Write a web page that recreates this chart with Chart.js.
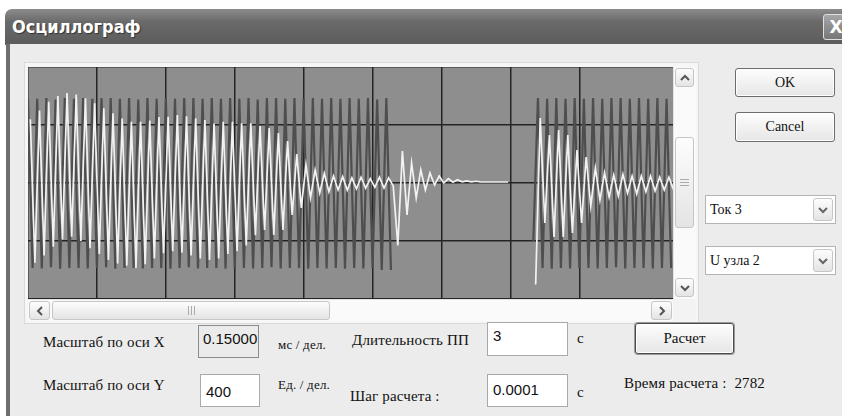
<!DOCTYPE html>
<html lang="ru">
<head>
<meta charset="UTF-8">
<title>Осциллограф</title>
<script src="https://cdn.jsdelivr.net/npm/chart.js"></script>
<style>
    body { margin: 0; width: 842px; height: 416px; overflow: hidden; background: #ffffff; position: relative; }
    .abs { position: absolute; box-sizing: border-box; }
    .lbl { position: absolute; font: 15px "Liberation Serif", serif; letter-spacing: 0.15px; color: #111; line-height: 1; transform: translateY(-50%); white-space: nowrap; }
    .small { font-size: 13px; letter-spacing: 0.2px; }
    .edit { position: absolute; box-sizing: border-box; background: #fff; border: 1px solid #a9a9a9; font: 15px "Liberation Sans", sans-serif; color: #111; padding: 4px 0 0 5px; overflow: hidden; white-space: nowrap; }
    .btn { position: absolute; box-sizing: border-box; border: 1px solid #6c6c6c; border-radius: 3px; background: linear-gradient(#fdfdfd, #e6e6e6); box-shadow: inset 0 0 0 1px #ffffff; font: 14px "Liberation Serif", serif; color: #111; display: flex; align-items: center; justify-content: center; }
    .sbtn { position: absolute; box-sizing: border-box; border: 1px solid #c6c6c6; border-radius: 3px; background: linear-gradient(#fdfdfd, #e4e4e4); display: flex; align-items: center; justify-content: center; }
    .combo { position: absolute; box-sizing: border-box; background: #fff; border: 1px solid #b4b4b4; font: 14px "Liberation Serif", serif; color: #111; padding-left: 4px; display: flex; align-items: center; }
</style>
</head>
<body>
<!-- window frame -->
<div class="abs" style="left:5px; top:9px; width:850px; height:36px; border-radius:7px 7px 0 0; background:linear-gradient(#8c8c8c, #6a6a6a 35%, #5c5c5c);"></div>
<div class="abs" style="left:12px; top:16px; font:bold 18px 'DejaVu Sans Condensed', sans-serif; color:#fff; text-shadow:1px 1px 1px #333;">Осциллограф</div>
<div class="abs" style="left:823px; top:14px; width:26px; height:26px; border:1px solid #e0e0e0; border-radius:3px; background:linear-gradient(#a6a6a6, #777); color:#fff; font:bold 17px 'DejaVu Sans', sans-serif; display:flex; align-items:center; justify-content:center;">X</div>
<div class="abs" style="left:6px; top:44px; width:840px; height:380px; background:#ececec; border-left:4px solid #6e6e6e;"></div>

<!-- plot frame -->
<div class="abs" style="left:24px; top:62px; width:675px; height:262px; background:#f6f6f6; border:1px solid #dadada;"></div>
<div class="abs" style="left:28px; top:67px; width:645px; height:232px; background:#8e8e8e;">
    <canvas id="scope"></canvas>
</div>

<!-- vertical scrollbar -->
<div class="abs" style="left:673px; top:67px; width:23px; height:232px; background:#fafafa; border-left:1px solid #e4e4e4;"></div>
<div class="sbtn" style="left:675px; top:68px; width:19px; height:19px;"><svg width="10" height="8"><polyline points="1,6 5,2 9,6" fill="none" stroke="#555" stroke-width="2"/></svg></div>
<div class="sbtn" style="left:675px; top:137px; width:19px; height:91px;"><svg width="9" height="7"><path d="M0 0.5H9M0 3.5H9M0 6.5H9" stroke="#aaa" stroke-width="1"/></svg></div>
<div class="sbtn" style="left:675px; top:278px; width:19px; height:19px;"><svg width="10" height="8"><polyline points="1,2 5,6 9,2" fill="none" stroke="#555" stroke-width="2"/></svg></div>

<!-- horizontal scrollbar -->
<div class="abs" style="left:28px; top:299px; width:645px; height:22px; background:#fafafa; border-top:1px solid #e4e4e4;"></div>
<div class="abs" style="left:673px; top:299px; width:23px; height:22px; background:#f3f3f3;"></div>
<div class="sbtn" style="left:29px; top:301px; width:21px; height:19px;"><svg width="8" height="10"><polyline points="6,1 2,5 6,9" fill="none" stroke="#555" stroke-width="2"/></svg></div>
<div class="sbtn" style="left:52px; top:301px; width:278px; height:19px;"><svg width="7" height="9"><path d="M0.5 0V9M3.5 0V9M6.5 0V9" stroke="#aaa" stroke-width="1"/></svg></div>
<div class="sbtn" style="left:651px; top:301px; width:21px; height:19px;"><svg width="8" height="10"><polyline points="2,1 6,5 2,9" fill="none" stroke="#555" stroke-width="2"/></svg></div>

<!-- right side controls -->
<div class="btn" style="left:735px; top:68px; width:100px; height:29px;">OK</div>
<div class="btn" style="left:735px; top:112px; width:100px; height:30px;">Cancel</div>
<div class="combo" style="left:705px; top:195px; width:131px; height:29px;">Ток 3</div>
<div class="sbtn" style="left:813px; top:198px; width:20px; height:23px;"><svg width="10" height="8"><polyline points="1,2 5,6 9,2" fill="none" stroke="#666" stroke-width="2"/></svg></div>
<div class="combo" style="left:705px; top:246px; width:131px; height:29px;">U узла 2</div>
<div class="sbtn" style="left:813px; top:249px; width:20px; height:23px;"><svg width="10" height="8"><polyline points="1,2 5,6 9,2" fill="none" stroke="#666" stroke-width="2"/></svg></div>

<!-- bottom controls -->
<div class="lbl" style="left:43px; top:342px;">Масштаб по оси X</div>
<div class="edit" style="left:198px; top:325px; width:61px; height:33px; background:#ebebeb; border-color:#8c8c8c; padding-left:4px;">0.15000</div>
<div class="lbl small" style="left:278px; top:344px;">мс / дел.</div>
<div class="lbl" style="left:352px; top:340px;">Длительность ПП</div>
<div class="edit" style="left:487px; top:322px; width:81px; height:34px;">3</div>
<div class="lbl" style="left:577px; top:338px;">с</div>
<div class="btn" style="left:635px; top:323px; width:99px; height:31px; border-color:#4a4a4a; box-shadow:0 0 0 1px #9a9a9a, inset 0 0 0 1px #fff; font-size:15px;">Расчет</div>

<div class="lbl" style="left:43px; top:385px;">Масштаб по оси Y</div>
<div class="edit" style="left:200px; top:374px; width:60px; height:33px; padding-top:8px;">400</div>
<div class="lbl small" style="left:278px; top:384px;">Ед. / дел.</div>
<div class="lbl" style="left:350px; top:396px;">Шаг расчета :</div>
<div class="edit" style="left:487px; top:374px; width:81px; height:33px; padding-top:6px;">0.0001</div>
<div class="lbl" style="left:577px; top:392px;">с</div>
<div class="lbl" style="left:624px; top:383px;">Время расчета :&nbsp; 2782</div>

<script>
// oscillograph settings (see fields under the plot)
const timeStepMs = 0.01;     // time between samples of the traces
const xScaleMs = 0.15;       // мс / дел.
const yScaleUnits = 400;     // Ед. / дел.
const xDivsShown = 9.36;     // divisions visible in the window
const yDivsHalf = 2;

// dark trace (U узла 2), null = not computed in that window
const darkTrace = [
    586, -586, 580, -590, 586, -580, 575, -592, 586, -586,
    580, -586, 586, -590, 580, -586, 586, -580, 586, -592,
    580, -586, 586, -586, 575, -590, 586, -586, 580, -586,
    586, -592, 580, -586, 586, -580, 586, -590, 580, -586,
    586, -586, 580, -592, 586, -586, 580, -586, 586, -590,
    575, -586, 586, -580, 586, -590, 580, -586, 586, -586,
    580, -592, 586, -586, 580, -590, 586, -586, 580, -592,
    586, -586, 580, -590, 586, -586, 575, -600, 586, -600,
    null, null, null, null, null, null, null, null, null, null,
    null, null, null, null, null, null, null, null, null, null,
    null, null, null, null, null, null, null, null, null, null,
    -400, 586, -586, 580, -592, 586, -586, 580, -590, 586,
    -586, 580, -586, 586, -590, 580, -586, 586, -580, 586,
    -590, 580, -586, 586, -586, 580, -590, 586, -586, 580,
    -586
];

// white trace (Ток 3)
const whiteTrace = [
    440, -550, 500, -500, 560, -440, 600, -390, 620, -370,
    610, -400, 585, -450, 550, -490, 515, -530, 480, -555,
    445, -570, 423, -586, 423, -560, 430, -520, 455, -485,
    457, -470, 469, -480, 460, -500, 446, -520, 434, -530,
    411, -520, 423, -490, 423, -470, 411, -430, 411, -360,
    393, -324, 379, -359, 345, -324, 290, -221, 200, -172,
    124, -103, 90, -69, 67, -60, 48, -48, 44, -50,
    35, -40, 40, -35, 30, -30, 40, -35, 35, -20,
    -430, 220, -220, 138, -103, 90, -48, 69, -14, 48,
    0, 30, 5, 22, 8, 15, 8, 12, 8, 7,
    7, 7, 7, 7, 7, null, null, null, null, null,
    -700, 448, -276, 331, -372, 366, -372, 331, -345, 228,
    -276, 179, -160, 103, -117, 70, -97, 55, -90, 60,
    -70, 48, -75, 48, -60, 48, -55, 40, -48, 40,
    -45
];

function toPoints(values, shift) {
    return values.map((v, i) => ({ x: (i + shift) * timeStepMs, y: v }));
}

function keepDivisionTicks(scale, step) {
    scale.ticks = scale.ticks.filter(t => Math.abs(t.value / step - Math.round(t.value / step)) < 1e-6);
}

new Chart(document.getElementById('scope'), {
    type: 'line',
    data: {
        datasets: [{
            label: 'Ток 3',
            data: toPoints(whiteTrace, 0.5),
            borderColor: '#f2f2f2',
            borderWidth: 1.7,
            pointRadius: 0,
            order: 0
        }, {
            label: 'U узла 2',
            data: toPoints(darkTrace, 0),
            borderColor: '#4e4e4e',
            borderWidth: 2.2,
            pointRadius: 0,
            order: 1
        }]
    },
    options: {
        responsive: true,
        maintainAspectRatio: false,
        animation: false,
        spanGaps: false,
        layout: { padding: 0 },
        plugins: { legend: { display: false }, tooltip: { enabled: false } },
        scales: {
            x: {
                type: 'linear',
                min: 0,
                max: xDivsShown * xScaleMs,
                ticks: { display: false, stepSize: xScaleMs },
                afterBuildTicks: s => keepDivisionTicks(s, xScaleMs),
                grid: { color: '#242424', lineWidth: 1.5, drawTicks: false },
                border: { display: false }
            },
            y: {
                min: -yDivsHalf * yScaleUnits,
                max: yDivsHalf * yScaleUnits,
                ticks: { display: false, stepSize: yScaleUnits },
                grid: { color: '#242424', lineWidth: 1.5, drawTicks: false },
                border: { display: false }
            }
        }
    }
});
</script>
</body>
</html>
